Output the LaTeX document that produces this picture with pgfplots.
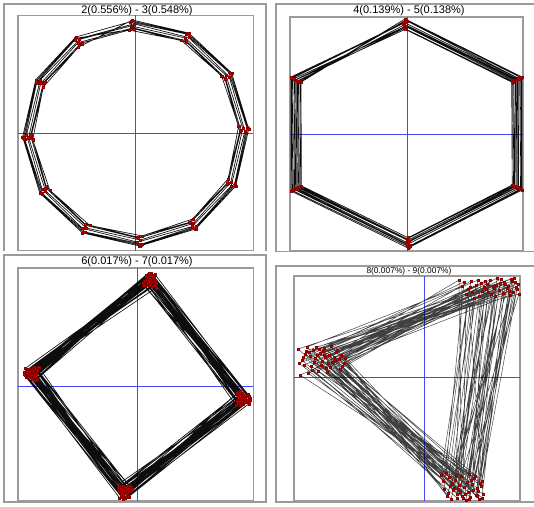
\documentclass[border=0pt]{standalone}
\usepackage{pgfplots}
\pgfplotsset{compat=1.18}
\usepackage{fontspec}
\setmainfont{Liberation Sans}
\definecolor{frame}{RGB}{155,155,155}
\definecolor{mk}{RGB}{200,0,0}
\definecolor{axblue}{RGB}{70,70,255}
\pgfplotsset{
  pan/.style={scale only axis, anchor=south west, xtick=\empty, ytick=\empty,
    axis line style={frame, line width=1.05pt}, clip=true},
  ser/.style={black, opacity=0.95, line width=0.5pt, mark=square*, mark size=0.8pt,
    mark options={fill=mk, draw=mk!70!black, line width=0.2pt, opacity=1}},
}
\begin{document}
\begin{tikzpicture}[x=0.75pt,y=0.75pt]
\path[use as bounding box] (0,0) rectangle (534,506);
% outer frames
\draw[frame, line width=1.05pt] (4,255)--(4,502)--(266,502)--(266,255);
\draw[frame, line width=1.05pt] (534,254.5)--(276,254.5)--(276,502)--(534,502);
\draw[frame, line width=1.05pt] (4,4) rectangle (266,251);
\draw[frame, line width=1.05pt] (534,240)--(276,240)--(276,4)--(534,4);
% titles
\node[font=\fontsize{8.25}{9}\selectfont] at (137,495) {2(0.556\%) - 3(0.548\%)};
\node[font=\fontsize{8.25}{9}\selectfont] at (409,495) {4(0.139\%) - 5(0.138\%)};
\node[font=\fontsize{8.25}{9}\selectfont] at (137,244) {6(0.017\%) - 7(0.017\%)};
\node[font=\fontsize{6.3}{7}\selectfont] at (409,235) {8(0.007\%) - 9(0.007\%)};

% Panel 1
\begin{axis}[pan, at={(18,255)}, width=176.25pt, height=176.25pt,
  xmin=-117.5, xmax=117.5, ymin=-117.5, ymax=117.5]
\draw[axblue, line width=0.6pt] (axis cs:0,-117.5)--(axis cs:0,117.5);
\draw[axblue, line width=0.6pt] (axis cs:-117.5,0)--(axis cs:117.5,0);
\addplot[ser] coordinates {
(-3.9,112.9) (53.1,99.8) (95.8,59.9) (112.9,3.9) (99.8,-53.1) (59.9,-95.8)
(3.9,-112.9) (-53.1,-99.8) (-95.8,-59.9) (-112.9,-3.9) (-99.8,53.1) (-59.9,95.8)
(-5.9,110.9) (50.3,98.9) (93.1,60.5) (110.9,5.9) (98.9,-50.3) (60.5,-93.1)
(5.9,-110.9) (-50.3,-98.9) (-93.1,-60.5) (-110.9,-5.9) (-98.9,50.3) (-60.5,93.1)
(-1.8,109.0) (53.0,95.3) (93.5,56.1) (109.0,1.8) (95.3,-53.0) (56.1,-93.5)
(1.8,-109.0) (-53.0,-95.3) (-93.5,-56.1) (-109.0,-1.8) (-95.3,53.0) (-56.1,93.5)
(-4.7,106.9) (49.4,94.9) (90.2,57.6) (106.9,4.7) (94.9,-49.4) (57.6,-90.2)
(4.7,-106.9) (-49.4,-94.9) (-90.2,-57.6) (-106.9,-4.7) (-94.9,49.4) (-57.6,90.2)
(-2.7,105.0) (50.2,92.2) (89.6,54.8) (105.0,2.7) (92.2,-50.2) (54.8,-89.6)
(2.7,-105.0) (-50.2,-92.2) (-89.6,-54.8) (-105.0,-2.7) (-92.2,50.2) (-54.8,89.6)
(-6.6,102.8) (45.7,92.4) (85.8,57.1) (102.8,6.6) (92.4,-45.7) (57.1,-85.8)
(6.6,-102.8) (-45.7,-92.4) (-85.8,-57.1) (-102.8,-6.6) (-92.4,45.7) (-57.1,85.8)
(-4.9,111.9) (51.7,99.4) (94.5,60.2) (111.9,4.9) (99.4,-51.7) (60.2,-94.5)
(4.9,-111.9) (-51.7,-99.4) (-94.5,-60.2) (-111.9,-4.9) (-99.4,51.7) (-60.2,94.5)
(-1.6,104.0) (50.6,90.9) (89.3,53.4) (104.0,1.6) (90.9,-50.6) (53.4,-89.3)
(1.6,-104.0) (-50.6,-90.9) (-89.3,-53.4) (-104.0,-1.6) (-90.9,50.6) (-53.4,89.3)
};
\end{axis}

% Panel 2
\begin{axis}[pan, at={(290,255)}, width=174.75pt, height=175.5pt,
  xmin=-117, xmax=116, ymin=-117, ymax=117]
\draw[axblue, line width=0.6pt] (axis cs:0,-117)--(axis cs:0,117);
\draw[axblue, line width=0.6pt] (axis cs:-117,0)--(axis cs:116,0);
\addplot[ser] coordinates {
(-2,115) (115,57) (115,-56) (1,-114) (-116,-57) (-116,57)
(0.5,112.7) (112.7,55.0) (113.5,-54.9) (3.0,-111.7) (-113.7,-55.0) (-114.5,55.9)
(-4.0,110.4) (110.4,54.7) (111.0,-53.0) (-1.0,-109.4) (-111.4,-54.7) (-112.0,54.0)
(-1.0,108.1) (108.5,53.6) (108.1,-52.6) (2.5,-107.2) (-109.0,-53.6) (-109.6,53.0)
(-2.8,105.8) (105.8,52.4) (106.5,-51.5) (0.0,-104.9) (-106.7,-52.4) (-107.0,52.4)
(-1.0,113.9) (113.9,56.4) (114.5,-55.4) (2.0,-112.9) (-114.8,-56.4) (-115.5,56.4)
(-3.0,111.6) (111.6,55.3) (111.6,-54.3) (0.0,-110.6) (-112.5,-55.3) (-113.0,55.3)
(-0.5,107.0) (107.0,53.0) (107.5,-52.1) (1.5,-106.0) (-107.9,-53.0) (-108.5,53.0)
(-2.5,109.3) (109.3,54.2) (109.8,-53.2) (-0.5,-108.3) (-110.2,-54.2) (-110.8,54.2)
(-1.8,104.7) (104.7,51.9) (105.2,-51.0) (1.0,-103.7) (-105.6,-51.9) (-106.0,51.9)
(-2,115)
};
\end{axis}

% Panel 3
\begin{axis}[pan, at={(18,5)}, width=176.25pt, height=174.75pt,
  xmin=-119, xmax=116, ymin=-115, ymax=118]
\draw[axblue, line width=0.6pt] (axis cs:0,-115)--(axis cs:0,118);
\draw[axblue, line width=0.6pt] (axis cs:-119,0)--(axis cs:116,0);
\addplot[ser] coordinates {
(13.9,113.1) (110.8,-8.6) (-18.0,-105.6) (-106.8,16.1)
(10.7,111.5) (108.1,-14.3) (-11.8,-112.4) (-113.1,13.9)
(16.4,108.8) (105.4,-10.9) (-10.3,-108.6) (-111.5,10.7)
(12.2,107.3) (110.9,-15.6) (-14.5,-110.1) (-108.8,16.4)
(17.7,111.7) (109.7,-9.4) (-12.8,-104.2) (-107.3,12.2)
(8.6,110.8) (105.6,-18.0) (-16.1,-106.8) (-111.7,17.7)
(14.3,108.1) (112.4,-11.8) (-13.9,-113.1) (-110.8,8.6)
(10.9,105.4) (108.6,-10.3) (-10.7,-111.5) (-108.1,14.3)
(15.6,110.9) (110.1,-14.5) (-16.4,-108.8) (-105.4,10.9)
(9.4,109.7) (104.2,-12.8) (-12.2,-107.3) (-110.9,15.6)
(18.0,105.6) (106.8,-16.1) (-17.7,-111.7) (-109.7,9.4)
(11.8,112.4) (113.1,-13.9) (-8.6,-110.8) (-105.6,18.0)
(10.3,108.6) (111.5,-10.7) (-14.3,-108.1) (-112.4,11.8)
(14.5,110.1) (108.8,-16.4) (-10.9,-105.4) (-108.6,10.3)
(12.8,104.2) (107.3,-12.2) (-15.6,-110.9) (-110.1,14.5)
(16.1,106.8) (111.7,-17.7) (-9.4,-109.7) (-104.2,12.8)
(10.3,100.5) (102.5,-18.6) (-15.3,-99.9) (-98.4,19.1)
(16.5,101.7) (101.2,-12.4) (-9.0,-105.7) (-103.3,11.7)
(7.2,99.9) (104.9,-6.8) (-5.6,-103.1) (-100.6,17.4)
(18.6,102.5) (99.9,-15.3) (-19.1,-98.4) (-104.0,14.8)
(12.4,101.2) (105.7,-9.0) (-11.7,-103.3) (-101.0,6.4)
(6.8,104.9) (103.1,-5.6) (-17.4,-100.6) (-104.7,16.9)
(15.3,99.9) (98.4,-19.1) (-14.8,-104.0) (-102.6,9.6)
(9.0,105.7) (103.3,-11.7) (-6.4,-101.0) (-100.5,10.3)
(5.6,103.1) (100.6,-17.4) (-16.9,-104.7) (-101.7,16.5)
(19.1,98.4) (104.0,-14.8) (-9.6,-102.6) (-99.9,7.2)
(11.7,103.3) (101.0,-6.4) (-10.3,-100.5) (-102.5,18.6)
(17.4,100.6) (104.7,-16.9) (-16.5,-101.7) (-101.2,12.4)
(14.8,104.0) (102.6,-9.6) (-7.2,-99.9) (-104.9,6.8)
(6.4,101.0) (100.5,-10.3) (-18.6,-102.5) (-99.9,15.3)
(16.9,104.7) (101.7,-16.5) (-12.4,-101.2) (-105.7,9.0)
(9.6,102.6) (99.9,-7.2) (-6.8,-104.9) (-103.1,5.6)
(13.9,113.1)
};
\end{axis}

% Panel 4
\begin{axis}[pan, at={(294,5)}, width=169.5pt, height=168.75pt,
  xmin=-130, xmax=96, ymin=-124, ymax=101]
\draw[axblue, line width=0.6pt] (axis cs:0,-124)--(axis cs:0,101);
\draw[axblue, line width=0.6pt] (axis cs:-130,0)--(axis cs:96,0);
\addplot[ser, opacity=0.75, line width=0.35pt, mark size=0.75pt] coordinates {
(-118,26) (72,92) (40,-110)
(-96,14) (48,85) (25,-100)
(-107,22) (88,96) (52,-118)
(-84,8) (60,90) (33,-121)
(-122,17) (93,88) (58,-104)
(-100,29) (40,95) (20,-112)
(-90,20) (79,84) (45,-97)
(-113,11) (66,97) (36,-115)
(-104,24) (55,81) (55,-122)
(-80,14) (84,91) (28,-106)
(-126,28) (90,99) (49,-113)
(-98,9) (46,90) (17,-98)
(-109,19) (75,87) (42,-123)
(-88,25) (63,93) (31,-103)
(-116,4) (86,82) (57,-109)
(-102,16) (35,97) (38,-119)
(-93,31) (70,89) (24,-116)
(-111,27) (94,93) (50,-101)
(-85,18) (58,86) (35,-108)
(-120,12) (80,95) (46,-120)
(-106,6) (52,92) (22,-96)
(-95,22) (89,85) (54,-114)
(-114,21) (67,83) (30,-111)
(-82,11) (77,98) (43,-105)
(-101,26) (44,88) (59,-117)
(-124,2) (83,89) (27,-122)
(-92,15) (61,96) (48,-107)
(-108,30) (95,83) (37,-99)
(-99,20) (69,91) (53,-111)
(-119,23) (50,79) (33,-117)
(-103,12) (57,94) (29,-113)
(-87,27) (85,86) (51,-99)
(-121,20) (42,83) (39,-121)
(-97,5) (73,99) (56,-106)
(-110,15) (91,95) (23,-119)
(-83,22) (64,85) (44,-115)
(-117,30) (38,91) (32,-98)
(-94,10) (81,93) (58,-121)
(-105,28) (54,97) (26,-109)
(-125,14) (92,90) (47,-103)
(-89,17) (71,81) (41,-117)
(-112,7) (47,96) (19,-104)
(-100,22) (87,98) (53,-119)
(-79,19) (62,88) (34,-112)
(-115,25) (76,94) (45,-122)
};
\end{axis}
\end{tikzpicture}
\end{document}
